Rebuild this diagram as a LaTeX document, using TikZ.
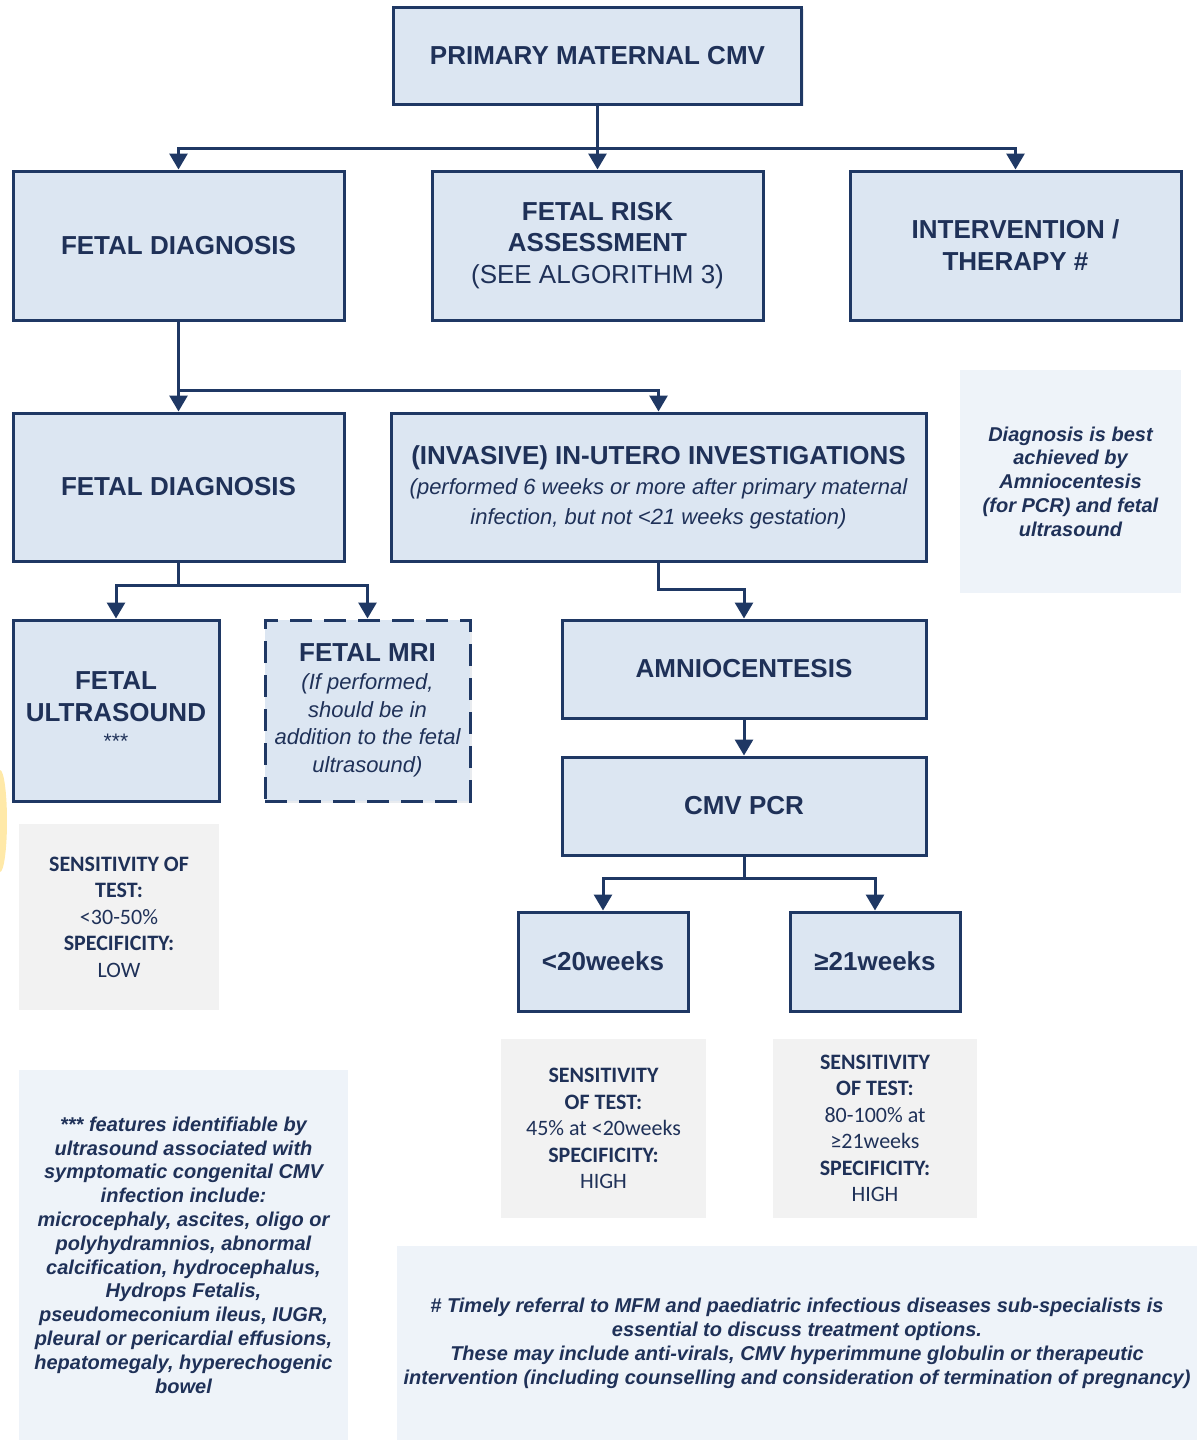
\documentclass[tikz,border=0pt]{standalone}
\usepackage{fontspec}
\setmainfont{Liberation Sans}
\newfontfamily\calfont{Carlito}
\usetikzlibrary{arrows.meta,shadows}
\definecolor{navy}{HTML}{1F3864}
\definecolor{txt}{HTML}{1F3158}
\definecolor{boxfill}{HTML}{DCE6F2}
\definecolor{notefill}{HTML}{EEF3F9}
\definecolor{sensfill}{HTML}{F2F2F2}
\definecolor{yel}{HTML}{FFE9A8}
\begin{document}
\begin{tikzpicture}[x=1pt,y=-1pt,
  bx/.style={draw=navy, line width=3pt, fill=boxfill, inner sep=0pt, align=center, text=txt,
     drop shadow={opacity=0.10, shadow xshift=2pt, shadow yshift=-2pt, fill=navy}},
  note/.style={fill=notefill, inner sep=0pt, align=center, text=txt,
     font=\fontsize{20}{23.8}\selectfont\bfseries\itshape},
  sens/.style={fill=sensfill, inner sep=0pt, align=center, text=txt,
     font=\calfont\fontsize{22}{26.5}\selectfont},
  ln/.style={draw=navy, line width=3pt},
  arr/.style={ln, -{Triangle[length=16pt,width=18pt]}},
  hd/.style={font=\fontsize{26}{32}\selectfont\bfseries}
]
\useasboundingbox (0,0) rectangle (1202,1440);
\fill[yel] (0,821) ellipse [x radius=7, y radius=51];

% main boxes
\node[bx, hd, minimum width=408, minimum height=97] (top) at (597.5,55.5) {PRIMARY MATERNAL CMV};
\node[bx, hd, minimum width=331, minimum height=149] (fd1) at (178.5,245.5) {FETAL DIAGNOSIS};
\node[bx, font=\fontsize{26}{31.5}\selectfont, minimum width=331, minimum height=149] (risk) at (597.5,245.5)
  {\bfseries FETAL RISK\\ \bfseries ASSESSMENT\\ (SEE ALGORITHM 3)};
\node[bx, hd, minimum width=331, minimum height=149] (interv) at (1015.5,245.5) {INTERVENTION /\\ THERAPY \#};
\node[bx, hd, minimum width=331, minimum height=148] (fd2) at (178.5,487) {FETAL DIAGNOSIS};
\node[bx, font=\fontsize{22}{30}\selectfont, minimum width=535, minimum height=148] (inv) at (658.5,487)
  {{\fontsize{26}{30}\selectfont\bfseries (INVASIVE) IN-UTERO INVESTIGATIONS}\\
   \itshape (performed 6 weeks or more after primary maternal\\
   \itshape infection, but not <21 weeks gestation)};
\node[note, minimum width=221, minimum height=223] (diag) at (1070.5,481.5)
  {Diagnosis is best\\ achieved by\\ Amniocentesis\\ (for PCR) and fetal\\ ultrasound};
\node[bx, font=\fontsize{26}{32}\selectfont, minimum width=206, minimum height=181] (us) at (116,710.5)
  {\bfseries FETAL\\ \bfseries ULTRASOUND\\[-5pt] {\fontsize{21}{22}\selectfont ***}};
\node[bx, dash pattern=on 22pt off 12pt, font=\fontsize{22}{27.7}\selectfont, minimum width=205, minimum height=181] (mri) at (367.5,710.5)
  {{\fontsize{26}{28}\selectfont\bfseries FETAL MRI}\\ \itshape (If performed,\\ \itshape should be in\\ \itshape addition to the fetal\\ \itshape ultrasound)};
\node[bx, hd, minimum width=364, minimum height=98] (amnio) at (744,669) {AMNIOCENTESIS};
\node[bx, hd, minimum width=364, minimum height=98] (pcr) at (744,806) {CMV PCR};
\node[bx, hd, minimum width=170, minimum height=99] (lt20) at (603,961.5) {<20weeks};
\node[bx, hd, minimum width=170, minimum height=99] (ge21) at (875,961.5) {≥21weeks};

% sensitivity boxes
\node[sens, minimum width=200, minimum height=186] (s1) at (119,917)
  {\bfseries SENSITIVITY OF\\ \bfseries TEST:\\ <30-50\%\\ \bfseries SPECIFICITY:\\ LOW};
\node[sens, minimum width=205, minimum height=179] (s2) at (603.5,1128.5)
  {\bfseries SENSITIVITY\\ \bfseries OF TEST:\\ 45\% at <20weeks\\ \bfseries SPECIFICITY:\\ HIGH};
\node[sens, minimum width=204, minimum height=179] (s3) at (875,1128.5)
  {\bfseries SENSITIVITY\\ \bfseries OF TEST:\\ 80-100\% at\\ ≥21weeks\\ \bfseries SPECIFICITY:\\ HIGH};

% footnotes
\node[note, minimum width=329, minimum height=370] (fn1) at (183.5,1255)
  {*** features identifiable by\\ ultrasound associated with\\ symptomatic congenital CMV\\ infection include:\\
   microcephaly, ascites, oligo or\\ polyhydramnios, abnormal\\ calcification, hydrocephalus,\\ Hydrops Fetalis,\\
   pseudomeconium ileus, IUGR,\\ pleural or pericardial effusions,\\ hepatomegaly, hyperechogenic\\ bowel};
\node[note, font=\fontsize{20}{24}\selectfont\bfseries\itshape, minimum width=800, minimum height=194] (fn2) at (797,1343)
  {\# Timely referral to MFM and paediatric infectious diseases sub-specialists is\\
   essential to discuss treatment options.\\
   These may include anti-virals, CMV hyperimmune globulin or therapeutic\\
   intervention (including counselling and consideration of termination of pregnancy)};

% connectors
\coordinate (j1) at (597.5,148);
\coordinate (j2) at (178.5,390);
\coordinate (j3) at (178.5,585);
\coordinate (j5) at (744,878);
\draw[arr] (top.south) -- (risk.north);
\draw[arr] (j1) -| (fd1.north);
\draw[arr] (j1) -| (interv.north);
\draw[arr] (fd1.south) -- (fd2.north);
\draw[arr] (j2) -| (inv.north);
\draw[ln] (fd2.south) -- (j3);
\draw[arr] (j3) -| (us.north);
\draw[arr] (j3) -| (mri.north);
\draw[arr] (inv.south) -- ++(0,27) -| (amnio.north);
\draw[arr] (amnio.south) -- (pcr.north);
\draw[ln] (pcr.south) -- (j5);
\draw[arr] (j5) -| (lt20.north);
\draw[arr] (j5) -| (ge21.north);
\end{tikzpicture}
\end{document}
